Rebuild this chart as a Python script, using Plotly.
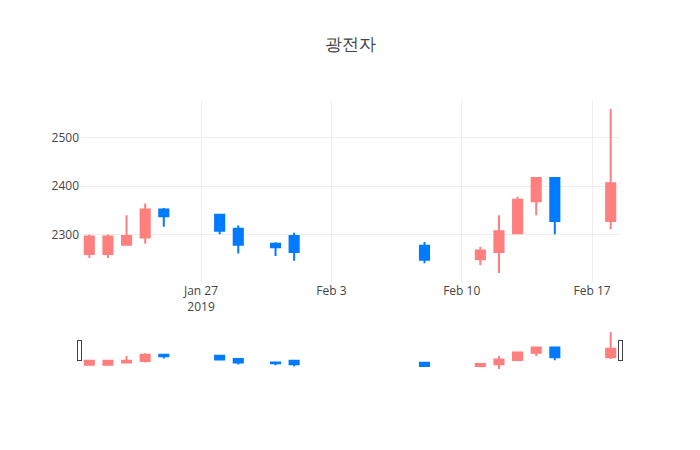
import plotly.graph_objects as go

dates = ["2019-01-21", "2019-01-22", "2019-01-23", "2019-01-24", "2019-01-25",
         "2019-01-28", "2019-01-29", "2019-01-31", "2019-02-01", "2019-02-08",
         "2019-02-11", "2019-02-12", "2019-02-13", "2019-02-14", "2019-02-15",
         "2019-02-18"]
open_ = [2260, 2260, 2279, 2294, 2352, 2341, 2312, 2281, 2297, 2277, 2249, 2264, 2303, 2369, 2417, 2328]
high = [2300, 2300, 2340, 2364, 2355, 2341, 2319, 2284, 2304, 2285, 2275, 2340, 2378, 2417, 2417, 2559]
low = [2252, 2252, 2279, 2281, 2316, 2301, 2261, 2256, 2246, 2241, 2237, 2221, 2303, 2340, 2301, 2311]
close = [2296, 2296, 2297, 2352, 2338, 2308, 2279, 2274, 2264, 2248, 2267, 2307, 2372, 2417, 2328, 2406]

INC = "#FF7F7F"
DEC = "#007BFF"

fig = go.Figure(go.Candlestick(
    x=dates, open=open_, high=high, low=low, close=close,
    increasing=dict(line=dict(color=INC), fillcolor=INC),
    decreasing=dict(line=dict(color=DEC), fillcolor=DEC),
))
fig.update_layout(
    template="none",
    width=700, height=450,
    title=dict(text="광전자"),
    showlegend=False,
    xaxis=dict(rangeslider=dict(visible=True)),
)
fig.write_html("out.html", config={"displayModeBar": False},
               post_script="document.body.style.margin='0';")
